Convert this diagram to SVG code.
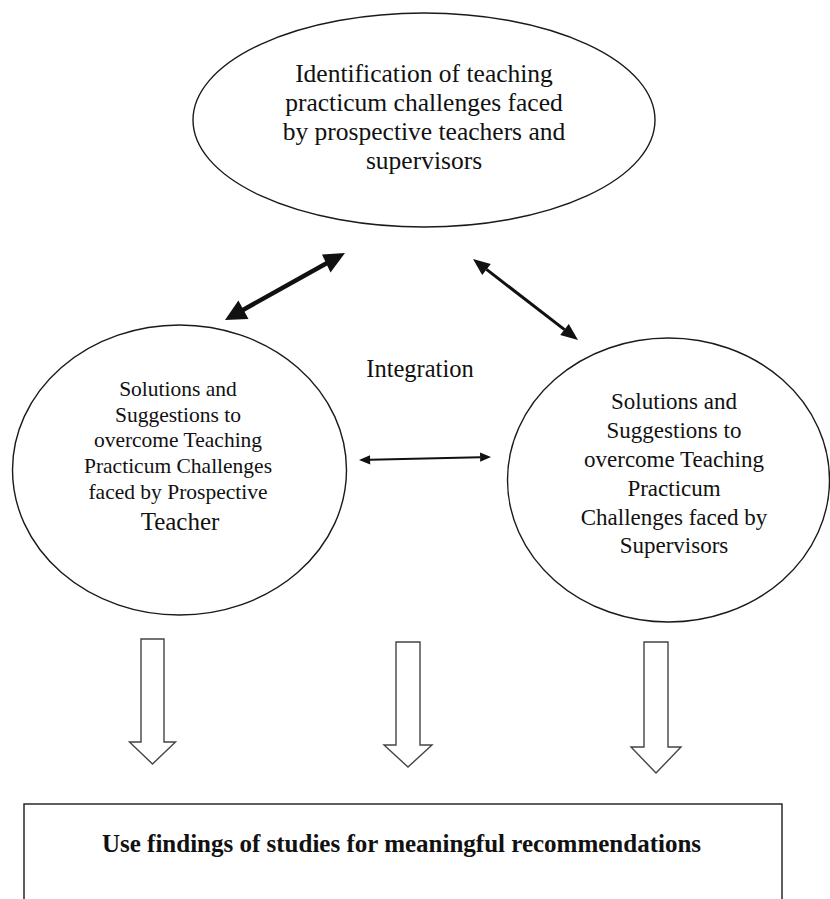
<svg xmlns="http://www.w3.org/2000/svg" width="830" height="899" viewBox="0 0 830 899">
<style>
.bg{fill:#ffffff}
.node{fill:#ffffff;stroke:#1a1a1a;stroke-width:1.4}
.t{font-family:"Liberation Serif","Times New Roman",serif;fill:#111;text-anchor:middle}
.t25{font-size:25.5px}
.tT{font-size:25px}
.t23{font-size:23px}
.t21{font-size:21.5px}
.tb{font-size:25px;font-weight:bold}
.ln{stroke:#111;fill:none}
.hd{fill:#111;stroke:none}
.blk{fill:#ffffff;stroke:#444;stroke-width:1.4;stroke-linejoin:miter}
</style>
<rect class="bg" x="0" y="0" width="830" height="899"/>

<g id="node-identification">
<ellipse class="node" cx="424" cy="120" rx="231" ry="107"/>
<text class="t t25" x="424" y="82">Identification of teaching</text>
<text class="t t25" x="424" y="111">practicum challenges faced</text>
<text class="t t25" x="424" y="140">by prospective teachers and</text>
<text class="t t25" x="424" y="169">supervisors</text>
</g>

<g id="node-prospective">
<ellipse class="node" cx="179.5" cy="470" rx="167" ry="145"/>
<text class="t t21" x="178" y="396">Solutions and</text>
<text class="t t21" x="178" y="421.5">Suggestions to</text>
<text class="t t21" x="178" y="447">overcome Teaching</text>
<text class="t t21" x="178" y="473">Practicum Challenges</text>
<text class="t t21" x="178" y="499">faced by Prospective</text>
<text class="t tT" x="180" y="530">Teacher</text>
</g>

<g id="node-supervisors">
<ellipse class="node" cx="668.5" cy="480" rx="161" ry="142"/>
<text class="t t23" x="674" y="409">Solutions and</text>
<text class="t t23" x="674" y="438">Suggestions to</text>
<text class="t t23" x="674" y="467">overcome Teaching</text>
<text class="t t23" x="674" y="496">Practicum</text>
<text class="t t23" x="674" y="525">Challenges faced by</text>
<text class="t t23" x="674" y="553">Supervisors</text>
</g>

<g id="label-integration">
<text class="t" style="font-size:24.5px" x="420" y="377">Integration</text>
</g>

<g id="node-recommendations">
<rect class="node" x="24" y="804" width="758" height="120"/>
<text class="t tb" x="401.5" y="852">Use findings of studies for meaningful recommendations</text>
</g>

<g id="connectors">
<line class="ln" stroke-width="4.5" x1="242.5" y1="310.2" x2="327.5" y2="262.8"/>
<polygon class="hd" points="345,253 330.5,272.5 322,254.4"/>
<polygon class="hd" points="225,320 248.5,318.9 238.4,300.5"/>

<line class="ln" stroke-width="3" x1="486.5" y1="269.4" x2="564.5" y2="329.6"/>
<polygon class="hd" points="578,340 560.2,335.1 568.8,324.1"/>
<polygon class="hd" points="473,259 482.2,274.9 490.8,263.9"/>

<line class="ln" stroke-width="2" x1="370" y1="459.7" x2="480" y2="457.3"/>
<polygon class="hd" points="491,457 480,452.5 480.2,461.7"/>
<polygon class="hd" points="359,460 370,455.2 370.2,464.4"/>

<polygon class="blk" points="141,639 164,639 164,742 175.5,742 152.5,764 129.5,742 141,742"/>
<polygon class="blk" points="396,642 420,642 420,745 432,745 408,767 384,745 396,745"/>
<polygon class="blk" points="644,642 668,642 668,747 681,747 656,773 631,747 644,747"/>
</g>
</svg>
